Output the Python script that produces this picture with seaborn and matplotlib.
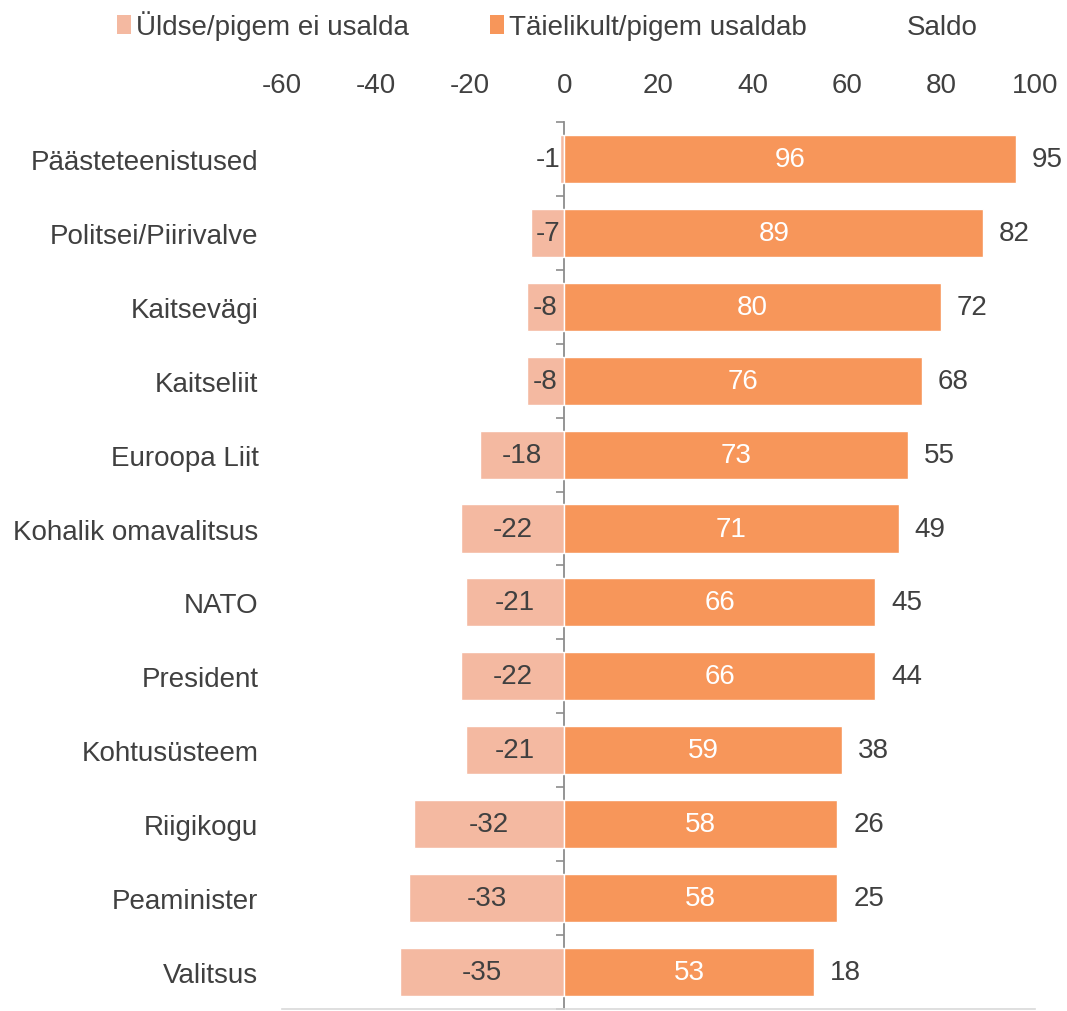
import matplotlib
matplotlib.use("Agg")
import matplotlib.pyplot as plt
import seaborn as sns
import pandas as pd
from matplotlib.patches import Patch

categories = ["Päästeteenistused", "Politsei/Piirivalve", "Kaitsevägi", "Kaitseliit",
              "Euroopa Liit", "Kohalik omavalitsus", "NATO", "President",
              "Kohtusüsteem", "Riigikogu", "Peaminister", "Valitsus"]
distrust = [-1, -7, -8, -8, -18, -22, -21, -22, -21, -32, -33, -35]
trust = [96, 89, 80, 76, 73, 71, 66, 66, 59, 58, 58, 53]
saldo = [95, 82, 72, 68, 55, 49, 45, 44, 38, 26, 25, 18]
xticks = [-60, -40, -20, 0, 20, 40, 60, 80, 100]
legend_labels = ["Üldse/pigem ei usalda", "Täielikult/pigem usaldab", "Saldo"]

c_neg = "#F4B9A1"
c_pos = "#F7965A"
c_text = "#404040"

sns.set_theme(style="white")
plt.rcParams["font.family"] = ["Liberation Sans", "DejaVu Sans"]
plt.rcParams["axes.unicode_minus"] = False

df = pd.DataFrame({"cat": categories, "neg": distrust, "pos": trust, "saldo": saldo})

fig = plt.figure(figsize=(10.67, 10.12), dpi=100)
ax = fig.add_axes([0.2643, 0.002, 0.7057, 0.8765])

sns.barplot(data=df, y="cat", x="neg", color=c_neg, width=0.65, ax=ax,
            saturation=1, orient="h")
sns.barplot(data=df, y="cat", x="pos", color=c_pos, width=0.65, ax=ax,
            saturation=1, orient="h")

neg_bars = ax.containers[0]
pos_bars = ax.containers[1]

# negative labels
for rect, v in zip(neg_bars, distrust):
    yc = rect.get_y() + rect.get_height() / 2
    xc = min(v / 2, -3.5)
    ax.text(xc, yc, f"{v}", ha="center", va="center", fontsize=20, color=c_text)

ax.bar_label(pos_bars, labels=[str(v) for v in trust], label_type="center",
             color="white", fontsize=20)
ax.bar_label(pos_bars, labels=[str(v) for v in saldo], padding=11.5,
             color=c_text, fontsize=20)

ax.set_xlim(-60, 100)
ax.set_ylim(len(categories) - 0.5, -0.5)
ax.set_xticks(xticks)
ax.xaxis.tick_top()
ax.tick_params(axis="x", length=0, pad=17, labelsize=20, labelcolor=c_text)
ax.tick_params(axis="y", length=0, pad=17, labelsize=20, labelcolor=c_text)
ax.set_xlabel("")
ax.set_ylabel("")
for s in ["top", "left", "right"]:
    ax.spines[s].set_visible(False)
ax.spines["bottom"].set_color("#D9D9D9")
ax.spines["bottom"].set_linewidth(1.2)

# zero axis line with category separator ticks
sec = ax.secondary_yaxis(60 / 160)
sec.set_yticks([i + 0.5 for i in range(-1, len(categories))])
sec.set_yticklabels([])
sec.spines["left"].set_color("#8C8C8C")
sec.spines["left"].set_linewidth(1.3)
sec.tick_params(axis="y", which="both", length=6, width=1.2, color="#8C8C8C",
                direction="out", left=True, right=False)

handles = [Patch(facecolor=c_neg, edgecolor="none"),
           Patch(facecolor=c_pos, edgecolor="none"),
           Patch(facecolor="none", edgecolor="none")]
fig.legend(handles, legend_labels, loc="center", bbox_to_anchor=(0.513, 0.974),
           ncol=3, frameon=False, fontsize=20, handlelength=0.5, handleheight=0.7,
           handletextpad=0.2, columnspacing=2.9, labelcolor=c_text)

fig.savefig("out.png", dpi=100)
